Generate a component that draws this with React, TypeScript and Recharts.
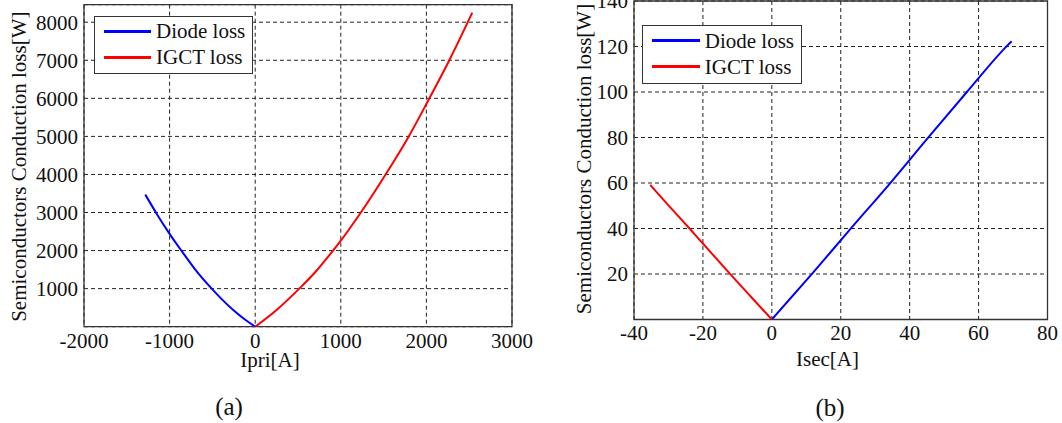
import React from 'react';
import { LineChart, Line, XAxis, YAxis, CartesianGrid, ReferenceArea } from 'recharts';

// (a) primary side: current [A] vs loss [W]
const priDiodeCurrent = [-1284, -1146, -1000, -850, -700, -508, -400, -250, -100, 0];
const priDiodeLoss = [3470, 2950, 2440, 1960, 1500, 1000, 745, 425, 155, 0];
const priIgctCurrent = [0, 250, 515, 700, 867, 1000, 1222, 1518, 1794, 2023, 2268, 2536];
const priIgctLoss = [0, 440, 1000, 1430, 1880, 2260, 2960, 3980, 5000, 5950, 7000, 8250];

// (b) secondary side
const secIgctCurrent = [-35.3, -30, -24, -20, -12.2, -6, 0];
const secIgctLoss = [59.2, 50.2, 40.2, 33.4, 20.2, 9.9, 0];
const secDiodeCurrent = [0, 11.9, 22.7, 34.5, 45.3, 56.6, 68.4, 69.6];
const secDiodeLoss = [0, 20.5, 39.6, 60.2, 79.8, 100, 120.5, 122.3];

const priXTicks = [-2000, -1000, 0, 1000, 2000, 3000];
const priYTicks = [1000, 2000, 3000, 4000, 5000, 6000, 7000, 8000];
const secXTicks = [-40, -20, 0, 20, 40, 60, 80];
const secYTicks = [20, 40, 60, 80, 100, 120, 140];

const seriesNames = ['Diode loss', 'IGCT loss'];
const yTitle = 'Semiconductors Conduction loss[W]';

const FONT = '"Liberation Serif", "Times New Roman", serif';
const INK = '#111';
const BLUE = '#0000ff';
const RED = '#ff0000';

const toPoints = (xs: number[], ys: number[]) => xs.map((x, i) => ({ x, y: ys[i] }));

interface PanelProps {
  left: number;
  width: number;
  height: number;
  margin: { top: number; right: number; bottom: number; left: number };
  yAxisWidth: number;
  xDomain: [number, number];
  yDomain: [number, number];
  xTicks: number[];
  yTicks: number[];
  diode: { x: number; y: number }[];
  igct: { x: number; y: number }[];
  xTitle: string;
  tag: string;
  yTitlePos: [number, number];
  xTitlePos: [number, number];
  tagPos: [number, number];
  legendBox: { left: number; top: number; width: number; height: number };
}

function Panel(p: PanelProps) {
  const tickStyle = { fill: INK, fontSize: 21, fontFamily: FONT };

  const renderYTitle = () => {
    const [x, y] = p.yTitlePos;
    return (
      <text
        x={x}
        y={y}
        transform={`rotate(-90 ${x} ${y})`}
        textAnchor="middle"
        dominantBaseline="central"
        fill={INK}
        fontSize={21}
        fontFamily={FONT}
      >
        {yTitle}
      </text>
    );
  };

  const renderXTitle = () => (
    <g>
      <text x={p.xTitlePos[0]} y={p.xTitlePos[1]} textAnchor="middle" fill={INK} fontSize={21} fontFamily={FONT}>
        {p.xTitle}
      </text>
      <text x={p.tagPos[0]} y={p.tagPos[1]} textAnchor="middle" fill={INK} fontSize={25} fontFamily={FONT}>
        {p.tag}
      </text>
    </g>
  );

  return (
    <div style={{ position: 'absolute', left: p.left, top: 0, width: p.width, height: p.height }}>
      <LineChart width={p.width} height={p.height} margin={p.margin}>
        <CartesianGrid stroke="#222" strokeDasharray="4 3" strokeWidth={1} />
        <XAxis
          type="number"
          dataKey="x"
          domain={p.xDomain}
          ticks={p.xTicks}
          interval={0}
          allowDataOverflow
          tickLine={false}
          axisLine={false}
          tickSize={0}
          tickMargin={6}
          height={30}
          tick={tickStyle}
          label={renderXTitle}
        />
        <YAxis
          type="number"
          dataKey="y"
          domain={p.yDomain}
          ticks={p.yTicks}
          interval={0}
          allowDataOverflow
          tickLine={false}
          axisLine={false}
          tickSize={0}
          tickMargin={6}
          width={p.yAxisWidth}
          tick={tickStyle}
          label={renderYTitle}
        />
        <ReferenceArea
          x1={p.xDomain[0]}
          x2={p.xDomain[1]}
          y1={p.yDomain[0]}
          y2={p.yDomain[1]}
          fill="none"
          stroke="#333"
          strokeWidth={1.3}
          strokeOpacity={1}
          fillOpacity={0}
        />
        <Line data={p.diode} dataKey="y" type="monotone" stroke={BLUE} strokeWidth={2} dot={false} isAnimationActive={false} />
        <Line data={p.igct} dataKey="y" type="monotone" stroke={RED} strokeWidth={2} dot={false} isAnimationActive={false} />
      </LineChart>

      <div
        style={{
          position: 'absolute',
          left: p.legendBox.left,
          top: p.legendBox.top,
          width: p.legendBox.width,
          height: p.legendBox.height,
          boxSizing: 'border-box',
          border: '1.3px solid #333',
          background: '#fff',
        }}
      >
        {seriesNames.map((name, i) => (
          <div key={name} style={{ position: 'absolute', left: 0, top: i === 0 ? 14.5 : 40.5, width: '100%', height: 0 }}>
            <div style={{ position: 'absolute', left: 9, top: -1.5, width: 47.5, height: 3, background: i === 0 ? BLUE : RED }} />
            <span
              style={{
                position: 'absolute',
                left: 61.5,
                top: -13,
                lineHeight: '26px',
                fontSize: 21,
                fontFamily: FONT,
                color: INK,
                whiteSpace: 'nowrap',
              }}
            >
              {name}
            </span>
          </div>
        ))}
      </div>
    </div>
  );
}

export default function App() {
  return (
    <div style={{ position: 'absolute', left: 0, top: 0, width: 1062, height: 423, background: '#fff', overflow: 'hidden' }}>
      <Panel
        left={0}
        width={540}
        height={423}
        margin={{ top: 4.7, right: 28, bottom: 66.3, left: 0 }}
        yAxisWidth={84}
        xDomain={[-2000, 3000]}
        yDomain={[0, 8460]}
        xTicks={priXTicks}
        yTicks={priYTicks}
        diode={toPoints(priDiodeCurrent, priDiodeLoss)}
        igct={toPoints(priIgctCurrent, priIgctLoss)}
        xTitle="Ipri[A]"
        tag="(a)"
        yTitlePos={[19.4, 166.7]}
        xTitlePos={[270, 367]}
        tagPos={[229, 415]}
        legendBox={{ left: 93.5, top: 15.5, width: 159.5, height: 58 }}
      />
      <Panel
        left={530}
        width={532}
        height={423}
        margin={{ top: 1, right: 14.5, bottom: 73.5, left: 0 }}
        yAxisWidth={104}
        xDomain={[-40, 80]}
        yDomain={[0, 140]}
        xTicks={secXTicks}
        yTicks={secYTicks}
        diode={toPoints(secDiodeCurrent, secDiodeLoss)}
        igct={toPoints(secIgctCurrent, secIgctLoss)}
        xTitle="Isec[A]"
        tag="(b)"
        yTitlePos={[54, 159]}
        xTitlePos={[297.5, 366]}
        tagPos={[300, 416]}
        legendBox={{ left: 112.3, top: 25, width: 159.4, height: 59 }}
      />
    </div>
  );
}
